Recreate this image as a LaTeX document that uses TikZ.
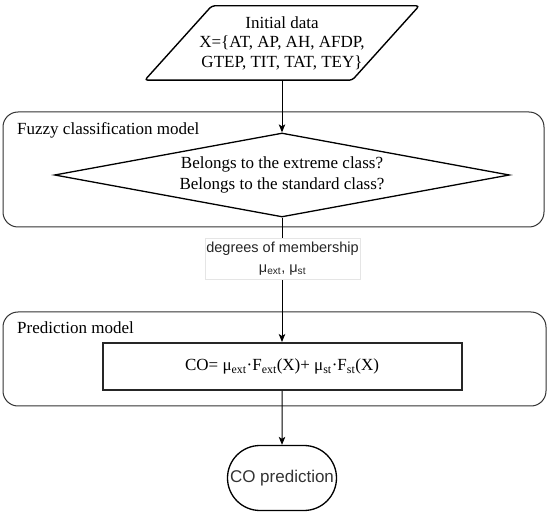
\documentclass[tikz,border=0pt]{standalone}
\usepackage{fontspec}
\setmainfont{Liberation Serif}
\setsansfont{Liberation Sans}
\usetikzlibrary{shapes.geometric,shapes.misc,arrows.meta}

\begin{document}
\begin{tikzpicture}[x=1pt, y=-1pt,
    serif/.style={font=\fontsize{17}{19.5}\selectfont},
    group/.style={draw=black!80, line width=1pt, rounded corners=15pt},
    flow/.style={-{Stealth[length=8pt,width=6.5pt,inset=2pt]}, line width=1pt}]
    \useasboundingbox (0,0) rectangle (550,516);

    % --- Initial data ---
    \node[minimum width=207pt, minimum height=74pt, inner sep=0pt, align=center, serif] (data) at (282,43)
          {Initial data\\X=\{AT, AP, AH, AFDP,\\GTEP, TIT, TAT, TEY\}};
    \draw[line width=1.4pt, rounded corners=3pt]
          ([xshift=-33.5pt]data.south west) -- ([xshift=33.5pt]data.north west)
       -- ([xshift=33.5pt]data.north east) -- ([xshift=-33.5pt]data.south east) -- cycle;

    % --- Fuzzy classification model ---
    \node[group, minimum width=541pt, minimum height=115pt] (fuzzy) at (273.5,169.5) {};
    \node[serif, anchor=base west, inner sep=0pt] (fuzzylbl) at (17,135) {Fuzzy classification model};
    \node[diamond, shape aspect=5.42, draw, line width=1.3pt, minimum width=455pt, minimum height=84pt, inner sep=0pt,
          align=center, font=\fontsize{17}{21}\selectfont] (classify) at (282,175)
          {Belongs to the extreme class?\\Belongs to the standard class?};

    % --- Prediction model ---
    \node[group, minimum width=543pt, minimum height=94pt] (predict) at (274.5,359) {};
    \node[serif, anchor=base west, inner sep=0pt] (predictlbl) at (17,334) {Prediction model};
    \node[draw=black!85, line width=2pt, minimum width=359pt, minimum height=47pt, serif] (formula) at (282,366.5)
          {CO= μ\textsubscript{ext}·F\textsubscript{ext}(X)+ μ\textsubscript{st}·F\textsubscript{st}(X)};

    % --- Output ---
    \node[rounded rectangle, draw, line width=1.3pt, minimum width=109pt, minimum height=65pt, inner sep=0pt,
          font=\sffamily\fontsize{17}{20}\selectfont, text=black!80] (output) at (282,478) {CO prediction};

    % --- Connectors ---
    \draw[flow] (data) -- (classify);
    \draw[flow] (classify) -- (formula);
    \draw[flow] (formula) -- (output);

    % --- Degrees of membership (sits on the connector) ---
    \node[draw=black!10, fill=white, line width=0.5pt, minimum width=155pt, minimum height=41pt, inner sep=0pt,
          align=center, font=\sffamily\fontsize{14.5}{19.5}\selectfont, text=black!85] (degrees) at (282.5,258.5)
          {degrees of membership\\μ\textsubscript{ext}, μ\textsubscript{st}};
\end{tikzpicture}
\end{document}
